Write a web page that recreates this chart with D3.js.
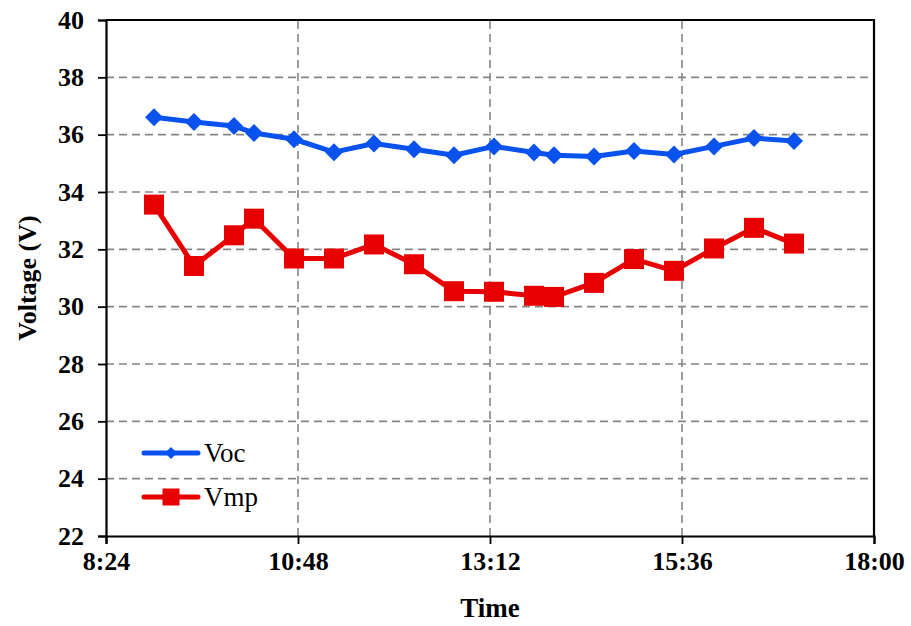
<!DOCTYPE html>
<html>
<head>
<meta charset="utf-8">
<script src="https://cdn.jsdelivr.net/npm/d3@7"></script>
<style>
  html, body { margin: 0; padding: 0; background: #fff; }
  svg { display: block; }
</style>
</head>
<body>
<svg id="chart" width="911" height="626"></svg>
<script>
// Measurement times (clock time of each sample)
const times = ["9:00", "9:30", "10:00", "10:15", "10:45", "11:15", "11:45", "12:15", "12:45",
               "13:15", "13:45", "14:00", "14:30", "15:00", "15:30", "16:00", "16:30", "17:00"];
// Open-circuit voltage (V)
const vocValues = [36.61, 36.44, 36.30, 36.06, 35.84, 35.39, 35.69, 35.49, 35.28,
                   35.59, 35.38, 35.28, 35.24, 35.43, 35.31, 35.59, 35.88, 35.78];
// Maximum-power-point voltage (V)
const vmpValues = [33.56, 31.42, 32.49, 33.07, 31.68, 31.68, 32.17, 31.48, 30.54,
                   30.52, 30.38, 30.34, 30.83, 31.66, 31.25, 32.03, 32.75, 32.20];
// Axis ticks
const xTickLabels = ["8:24", "10:48", "13:12", "15:36", "18:00"];
const yTickValues = [22, 24, 26, 28, 30, 32, 34, 36, 38, 40];

const FONT = "Liberation Serif";
const toMin = s => { const [h, m] = s.split(":").map(Number); return h * 60 + m; };
const fmtMin = v => `${Math.floor(v / 60)}:${String(v % 60).padStart(2, "0")}`;

const svg = d3.select("#chart");
const margin = { left: 106, right: 37, top: 20, bottom: 90 };
const W = 911, H = 626;

const x = d3.scaleLinear()
  .domain([toMin(xTickLabels[0]), toMin(xTickLabels[xTickLabels.length - 1])])
  .range([margin.left, W - margin.right]);
const y = d3.scaleLinear().domain([22, 40]).range([H - margin.bottom, margin.top]);

const gridColor = "#858585";
const xTicks = xTickLabels.map(toMin);

// Grid lines
const grid = svg.append("g");
grid.selectAll("line.h").data(yTickValues.slice(1, -1)).join("line")
  .attr("x1", x.range()[0]).attr("x2", x.range()[1])
  .attr("y1", d => y(d)).attr("y2", d => y(d))
  .attr("stroke", gridColor).attr("stroke-width", 1.6).attr("stroke-dasharray", "8,5");
grid.selectAll("line.v").data(xTicks.slice(1, -1)).join("line")
  .attr("y1", y.range()[0]).attr("y2", y.range()[1])
  .attr("x1", d => x(d)).attr("x2", d => x(d))
  .attr("stroke", gridColor).attr("stroke-width", 1.6).attr("stroke-dasharray", "8,5");

// Axes
const xAxis = svg.append("g")
  .attr("transform", `translate(0,${y(22)})`)
  .call(d3.axisBottom(x).tickValues(xTicks).tickFormat(fmtMin).tickSizeOuter(0).tickSize(8).tickPadding(8));
const yAxis = svg.append("g")
  .attr("transform", `translate(${x.range()[0]},0)`)
  .call(d3.axisLeft(y).tickValues(yTickValues).tickSizeOuter(0).tickSize(8).tickPadding(14));
[xAxis, yAxis].forEach(g => {
  g.attr("font-family", FONT).attr("font-size", 26).attr("font-weight", "bold");
  g.select(".domain").attr("stroke", "#000").attr("stroke-width", 2.2);
  g.selectAll(".tick line").attr("stroke", "#000").attr("stroke-width", 1.8);
  g.selectAll(".tick text").attr("fill", "#000")
    .attr("font-family", FONT).attr("font-size", 26).attr("font-weight", "bold");
});
// Top and right frame
svg.append("path")
  .attr("d", `M${x.range()[0]},${y(40)}H${x.range()[1]}V${y(22)}`)
  .attr("fill", "none").attr("stroke", "#000").attr("stroke-width", 2.2);

// Axis titles
svg.append("text")
  .attr("x", (x.range()[0] + x.range()[1]) / 2).attr("y", 617)
  .attr("text-anchor", "middle").attr("font-family", FONT)
  .attr("font-size", 27).attr("font-weight", "bold").text("Time");
svg.append("text")
  .attr("transform", `translate(36,${(y(22) + y(40)) / 2}) rotate(-90)`)
  .attr("text-anchor", "middle").attr("font-family", FONT)
  .attr("font-size", 26).attr("font-weight", "bold").text("Voltage (V)");

// Series
const series = [
  { name: "Voc", values: vocValues, color: "#0A52EE", marker: "diamond" },
  { name: "Vmp", values: vmpValues, color: "#E60000", marker: "square" }
];
const line = d3.line().x(d => x(toMin(d.t))).y(d => y(d.v));

function drawMarker(g, kind, color, size) {
  if (kind === "diamond") {
    g.append("path").attr("d", `M0,${-size}L${size},0L0,${size}L${-size},0Z`).attr("fill", color);
  } else {
    g.append("rect").attr("x", -size).attr("y", -size)
      .attr("width", size * 2).attr("height", size * 2).attr("fill", color);
  }
}

series.forEach(s => {
  const pts = times.map((t, i) => ({ t, v: s.values[i] }));
  svg.append("path").datum(pts).attr("d", line)
    .attr("fill", "none").attr("stroke", s.color).attr("stroke-width", 5)
    .attr("stroke-linejoin", "round");
  svg.append("g").selectAll("g").data(pts).join("g")
    .attr("transform", d => `translate(${x(toMin(d.t))},${y(d.v)})`)
    .each(function () { drawMarker(d3.select(this), s.marker, s.color, s.marker === "diamond" ? 9 : 10); });
});

// Legend
const legend = svg.append("g");
series.forEach((s, i) => {
  const ly = 453 + i * 44;
  legend.append("line").attr("x1", 144).attr("x2", 198).attr("y1", ly).attr("y2", ly)
    .attr("stroke", s.color).attr("stroke-width", 5).attr("stroke-linecap", "round");
  const mg = legend.append("g").attr("transform", `translate(171,${ly})`);
  drawMarker(mg, s.marker, s.color, s.marker === "diamond" ? 6 : 8.5);
  legend.append("text").attr("x", 204).attr("y", ly + 9)
    .attr("font-family", FONT).attr("font-size", 27).text(s.name);
});
</script>
</body>
</html>
